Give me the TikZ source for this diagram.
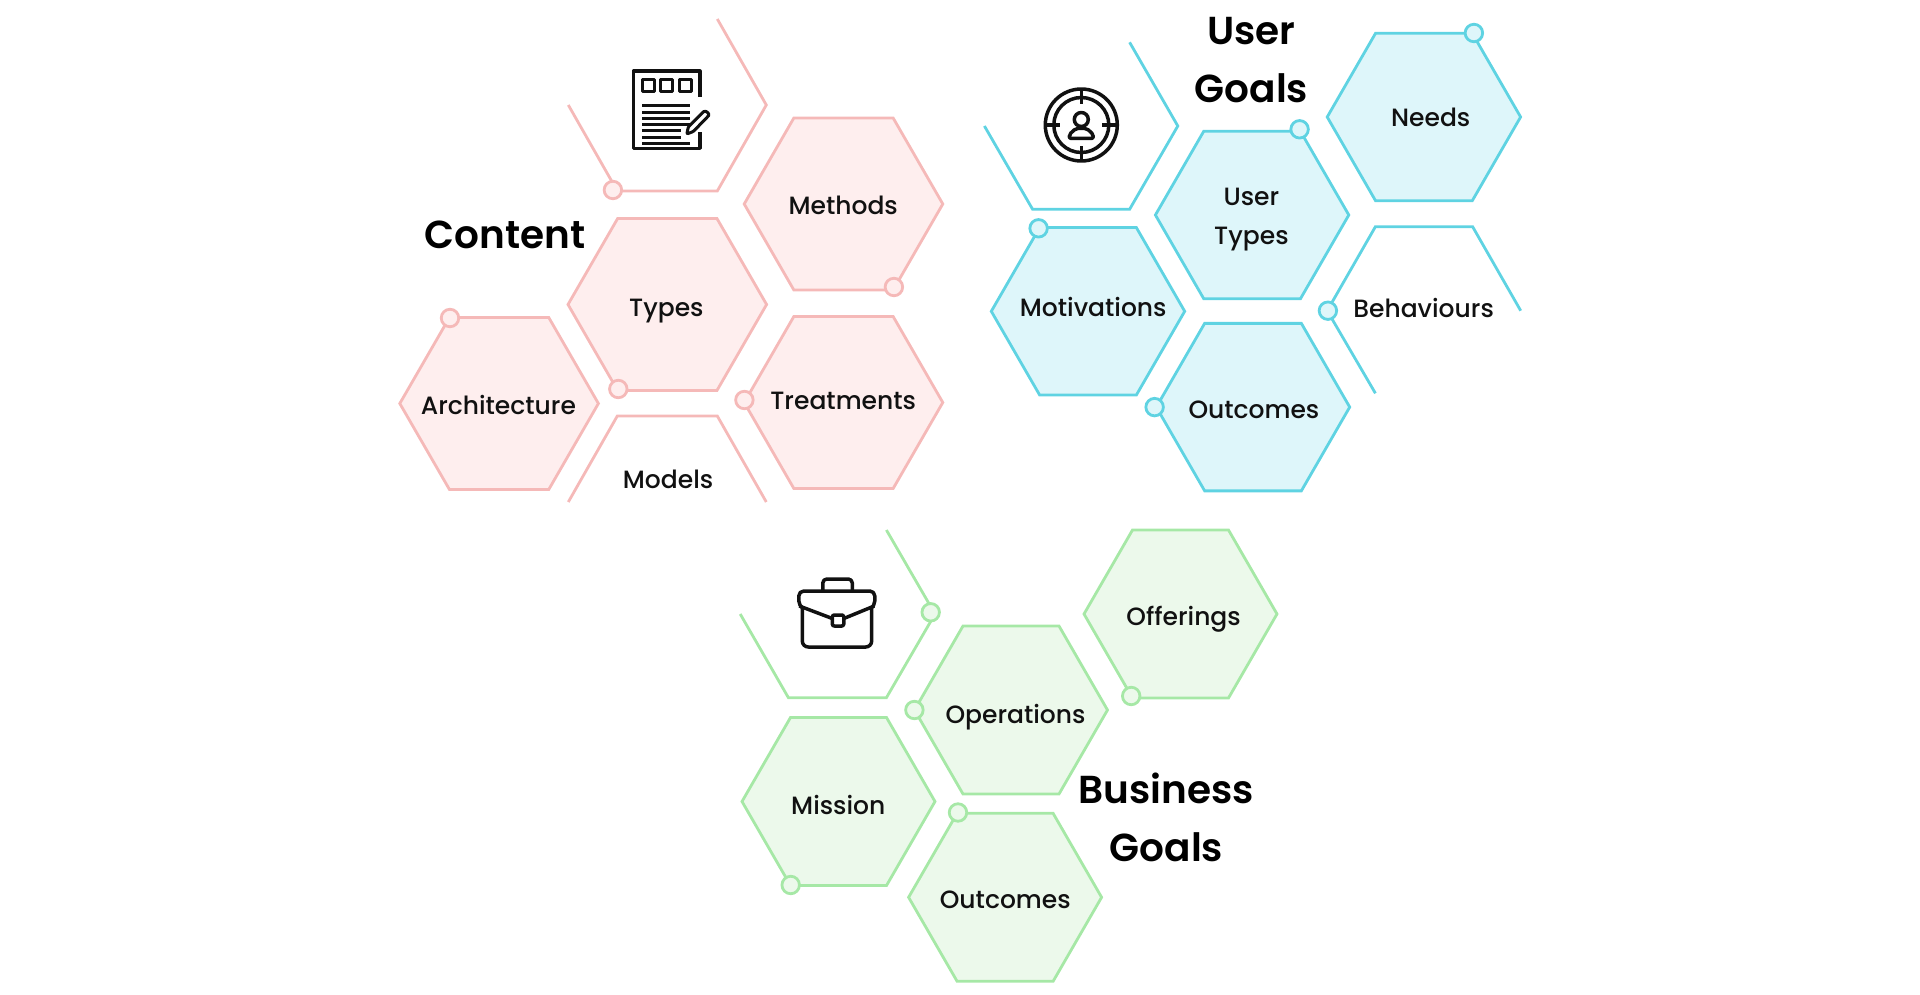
\documentclass[tikz,border=0pt]{standalone}
\usepackage{fontspec}
\setmainfont[BoldFont={Poppins SemiBold}]{Poppins Medium}
\usetikzlibrary{shapes.symbols, positioning, calc}
\definecolor{pinkline}{HTML}{F5B9B8}
\definecolor{pinkfill}{HTML}{FEEEEE}
\definecolor{blueline}{HTML}{5FD3E2}
\definecolor{bluefill}{HTML}{DEF6FA}
\definecolor{greenline}{HTML}{A6E8A6}
\definecolor{greenfill}{HTML}{ECF9EB}
\definecolor{iconink}{HTML}{111111}
\tikzset{
    base/.style={draw, line width=2.8pt, inner sep=0pt, outer sep=0pt},
    hexbase/.style={base, signal, signal from=nowhere, signal to=west and east, signal pointer angle=120},
    pinkhex/.style={hexbase, draw=pinkline, fill=pinkfill, minimum width=198.6pt, minimum height=172pt},
    bluehex/.style={hexbase, draw=blueline, fill=bluefill, minimum width=193.4pt, minimum height=167.5pt},
    greenhex/.style={hexbase, draw=greenline, fill=greenfill, minimum width=193pt, minimum height=168pt},
    pinkedge/.style={draw=pinkline, line width=2.8pt},
    blueedge/.style={draw=blueline, line width=2.8pt},
    greenedge/.style={draw=greenline, line width=2.8pt},
    dot/.style={base, circle, minimum size=17.5pt},
    pinkdot/.style={dot, draw=pinkline, fill=pinkfill},
    bluedot/.style={dot, draw=blueline, fill=bluefill},
    greendot/.style={dot, draw=greenline, fill=greenfill},
    lab/.style={anchor=base, inner sep=0pt, align=center, text=iconink, shift={(0,1.5)}, font=\fontsize{25}{38.7}\selectfont},
    title/.style={anchor=base, inner sep=0pt, align=center, text=black, shift={(0,2.5)}, font=\fontsize{39}{58}\selectfont\bfseries},
    icon/.style={draw=iconink, line width=3.5pt, line join=round}
}

\begin{document}
\begin{tikzpicture}[x=1pt, y=-1pt]
    \useasboundingbox (0,0) rectangle (1920,995);

    % Content
    \node (types) [pinkhex] at (667.3,304.5) {};
    \node (methods) [pinkhex, right=-22.4pt of types, yshift=100.5pt] {};
    \node (treatments) [pinkhex, right=-22.4pt of types, yshift=-98pt] {};
    \node (architecture) [pinkhex, left=-30.4pt of types, yshift=-99pt] {};
    \coordinate (doc) at ($(types)+(0,-199.5)$);
    \coordinate (models) at ($(types)+(0,197.5)$);
    \draw [pinkedge] ($(doc)+(50,-86)$) -- ($(doc)+(99,0)$) -- ($(doc)+(50,86)$) -- ($(doc)+(-50,86)$) -- ($(doc)+(-99,0)$);
    \draw [pinkedge] ($(models)+(-99,0)$) -- ($(models)+(-50,-86)$) -- ($(models)+(50,-86)$) -- ($(models)+(99,0)$);
    \node (docdot) [pinkdot] at ($(doc)+(-54.4,85)$) {};
    \node (typesdot) [pinkdot] at ($(types)+(-49,84.5)$) {};
    \node (methodsdot) [pinkdot] at ($(methods)+(50.4,83)$) {};
    \node (archdot) [pinkdot] at ($(architecture)+(-49.1,-85.5)$) {};
    \node (treatdot) [pinkdot] at ($(treatments)+(-99.1,-2.5)$) {};
    \node (contenttitle) [title, xshift=-162.3pt, yshift=58.5pt] at (types) {Content};
    \node (typestext) [lab, xshift=-.9pt, yshift=-10.5pt] at (types) {Types};
    \node (methodstext) [lab, xshift=-.3pt, yshift=-8.7pt] at (methods) {Methods};
    \node (treattext) [lab, xshift=-.3pt, yshift=-5.8pt] at (treatments) {Treatments};
    \node (archtext) [lab, xshift=-.7pt, yshift=-9.2pt] at (architecture) {Architecture};
    \node (modelstext) [lab, xshift=.8pt, yshift=15.3pt] at (models) {Models};

    % document icon
    \begin{scope}[shift={(633.3,71)}]
        \draw [icon, line width=3.2pt] (66.7,25.7) -- (66.7,0) -- (0,0) -- (0,77.3) -- (66.7,77.3) -- (66.7,60.7);
        \draw [icon, line width=3pt] (9,9) rectangle (21,20.7) (27.4,9) rectangle (39.4,20.7) (45.7,9) rectangle (57.7,20.7);
        \draw [icon, line width=3pt] (9,34.7) -- (56.7,34.7) (9,41.3) -- (56.7,41.3) (9,47.3) -- (56.7,47.3) (9,53.7) -- (56.7,53.7)
            (9,59.7) -- (47.4,59.7) (9,66.3) -- (47.4,66.3) (9,72.3) -- (56.7,72.3);
        \draw [icon, line width=3pt, rounded corners=1pt] (53.5,63) -- (55,56) -- (71,40) -- (74,41) -- (76,44) -- (60,60.5) -- cycle;
    \end{scope}

    % User Goals
    \node (usertypes) [bluehex] at (1252.1,215) {};
    \node (needs) [bluehex, right=-21.6pt of usertypes, yshift=98pt] {};
    \node (motivations) [bluehex, left=-29.3pt of usertypes, yshift=-96.3pt] {};
    \node (outcomes) [bluehex, below=24.6pt of usertypes, xshift=.9pt] {};
    \coordinate (target) at ($(usertypes)+(-171,-89)$);
    \coordinate (behaviours) at ($(usertypes)+(171.8,95.7)$);
    \draw [blueedge] ($(target)+(48.5,-83.7)$) -- ($(target)+(96.7,0)$) -- ($(target)+(48.5,83.3)$) -- ($(target)+(-48.5,83.3)$) -- ($(target)+(-96.7,0)$);
    \draw [blueedge] ($(behaviours)+(-48.5,82.6)$) -- ($(behaviours)+(-96.7,0)$) -- ($(behaviours)+(-48.5,-84)$) -- ($(behaviours)+(48.7,-84)$) -- ($(behaviours)+(96.8,0)$);
    \node (needsdot) [bluedot] at ($(needs)+(50,-84)$) {};
    \node (usertypesdot) [bluedot] at ($(usertypes)+(47.5,-85.7)$) {};
    \node (motivdot) [bluedot] at ($(motivations)+(-49.4,-83)$) {};
    \node (behavdot) [bluedot] at ($(behaviours)+(-96,0)$) {};
    \node (outcomesdot) [bluedot] at ($(outcomes)+(-98.4,0)$) {};
    \node (usergoals) [title] at (1251.4,100) {User\\Goals};
    \node (usertypestext) [lab] at (1251.4,242.7) {User\\Types};
    \node (needstext) [lab, xshift=6.8pt, yshift=-8pt] at (needs) {Needs};
    \node (motivtext) [lab, xshift=5.2pt, yshift=-3.7pt] at (motivations) {Motivations};
    \node (behavtext) [lab, xshift=-.3pt, yshift=-5.3pt] at (behaviours) {Behaviours};
    \node (outcomestext) [lab, xshift=.9pt, yshift=-9.7pt] at (outcomes) {Outcomes};

    % target icon
    \begin{scope}[shift={(1081.3,125)}]
        \draw [icon] (0,0) circle [radius=36] (0,0) circle [radius=27.5];
        \draw [icon] (0,-36) -- (0,-21) (0,36) -- (0,21) (-36,0) -- (-21,0) (36,0) -- (21,0);
        \draw [icon] (0,-5.5) circle [radius=7];
        \draw [icon, rounded corners=2pt] (-12,13.5) -- (12,13.5) -- (12,9.5) -- (5.5,3.5) -- (-5.5,3.5) -- (-12,9.5) -- cycle;
    \end{scope}

    % Business Goals
    \node (operations) [greenhex] at (1011,710) {};
    \node (offerings) [greenhex, right=-23.5pt of operations, yshift=96pt] {};
    \node (mission) [greenhex, left=-20.5pt of operations, yshift=-91.5pt] {};
    \node (bizoutcomes) [greenhex, below=19.3pt of operations, xshift=-5.9pt] {};
    \coordinate (bag) at ($(operations)+(-173.6,-96)$);
    \draw [greenedge] ($(bag)+(49,-84)$) -- ($(bag)+(97.6,0)$) -- ($(bag)+(49,83.7)$) -- ($(bag)+(-49,83.7)$) -- ($(bag)+(-97.2,0)$);
    \node (bagdot) [greendot] at ($(bag)+(93.3,-1.7)$) {};
    \node (opsdot) [greendot] at ($(operations)+(-96.6,0)$) {};
    \node (offerdot) [greendot] at ($(offerings)+(-49.3,82)$) {};
    \node (missiondot) [greendot] at ($(mission)+(-47.8,83.5)$) {};
    \node (bizoutdot) [greendot] at ($(bizoutcomes)+(-47.1,-84.8)$) {};
    \node (bizgoals) [title] at (1166.4,859) {Business\\Goals};
    \node (offertext) [lab, xshift=3.1pt, yshift=-10pt] at (offerings) {Offerings};
    \node (opstext) [lab, xshift=4.5pt, yshift=-11.7pt] at (operations) {Operations};
    \node (missiontext) [lab, xshift=-.2pt, yshift=-11.2pt] at (mission) {Mission};
    \node (bizouttext) [lab, xshift=.2pt, yshift=-9.8pt] at (bizoutcomes) {Outcomes};

    % briefcase icon
    \begin{scope}[shift={(798.3,579)}]
        \draw [icon, rounded corners=4pt] (24.5,11) -- (24.5,0) -- (54,0) -- (54,11);
        \draw [icon, rounded corners=5pt] (4,29) -- (0.5,27) -- (0.5,12) -- (76.5,12) -- (76.5,27) -- (73.4,29);
        \draw [icon, rounded corners=6pt] (4,27) -- (4,68) -- (73.4,68) -- (73.4,27);
        \draw [icon] (1,27) -- (34,39.5) (45.5,39.5) -- (76,27);
        \draw [icon, rounded corners=2pt] (34,36) rectangle (45.5,47);
    \end{scope}
\end{tikzpicture}
\end{document}
